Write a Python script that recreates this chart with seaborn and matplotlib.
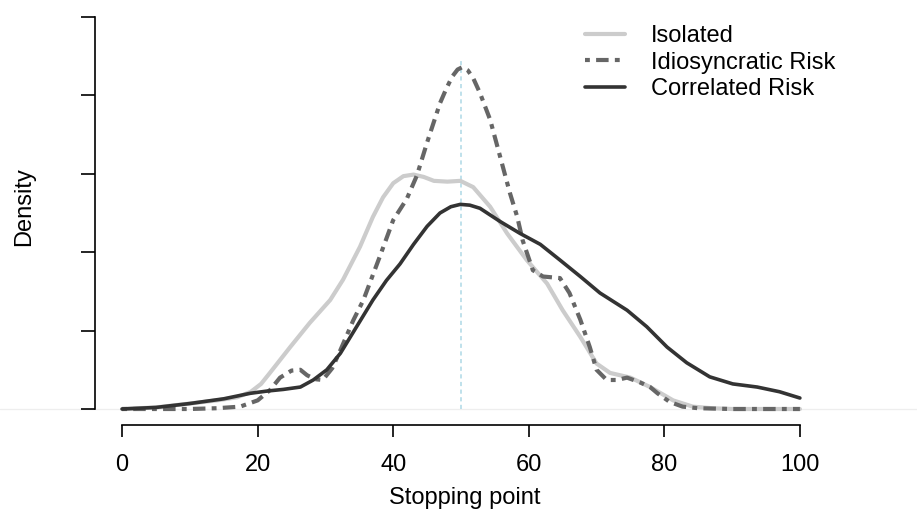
import numpy as np
import pandas as pd
import matplotlib
matplotlib.use("Agg")
import matplotlib.pyplot as plt
import seaborn as sns

# density curves (x = stopping point, y = density)
iso_x = [0, 5, 10, 14, 17, 19, 20.5, 21.8, 24.8, 27.7, 30.7, 32.6, 35.1, 37, 38.5, 40,
         41.5, 43, 44.5, 46, 48, 49.9, 51.8, 54.3, 56.8, 59.7, 62.7, 65, 67.6, 70, 72, 75,
         77.9, 81.3, 84.2, 87, 90, 95, 100]
iso_y = [0, 0.0002, 0.0007, 0.0011, 0.0015, 0.0022, 0.0032, 0.0046, 0.0079, 0.011, 0.0139,
         0.0165, 0.0207, 0.0245, 0.027, 0.0288, 0.0297, 0.0299, 0.0296, 0.0291, 0.029,
         0.0291, 0.0283, 0.0258, 0.0224, 0.019, 0.016, 0.0126, 0.0092, 0.0058, 0.0046,
         0.004, 0.0028, 0.0011, 0.0003, 0.0001, 0, 0, 0]

idio_x = [0, 5, 10, 14, 17.4, 20, 21.8, 23.3, 25, 26.3, 27.3, 28.5, 29.6, 31, 32.2, 34.1,
          35.6, 38, 40, 42, 43.5, 45, 46.9, 47.8, 48.7, 49.5, 50.2, 51, 51.8, 52.8, 54.3,
          55.8, 57.2, 58.3, 59.1, 60.6, 62.1, 64.6, 66, 67.6, 69, 70, 71.5, 73, 74.5, 76.4,
          77.9, 79, 80.8, 82.7, 85, 90, 95, 100]
idio_y = [0, 0, 0, 0.0001, 0.0003, 0.0011, 0.0024, 0.004, 0.0049, 0.005, 0.0043, 0.0038,
          0.0037, 0.0052, 0.0075, 0.0113, 0.0139, 0.0194, 0.0241, 0.0268, 0.0298, 0.034,
          0.039, 0.0408, 0.0424, 0.0433, 0.0436, 0.0432, 0.0422, 0.0403, 0.0369, 0.0321,
          0.0276, 0.0245, 0.0215, 0.0177, 0.0169, 0.0167, 0.0148, 0.0114, 0.0079, 0.005,
          0.0037, 0.0037, 0.004, 0.0034, 0.0028, 0.002, 0.0009, 0.0003, 0.0001, 0, 0, 0]

corr_x = [0, 5, 10, 15, 18.9, 21.5, 23.8, 26.3, 28.2, 30.2, 32.2, 34.6, 37, 39, 41, 43,
          45, 46.9, 48.5, 49.9, 51.3, 52.8, 55.8, 58.7, 61.7, 64.6, 67.6, 70.5, 74.5, 77.4,
          80.4, 83.3, 86.7, 90.1, 93.7, 97, 100]
corr_y = [0, 0.0002, 0.0007, 0.0013, 0.002, 0.0023, 0.0025, 0.0028, 0.0037, 0.005, 0.0071,
          0.0105, 0.0139, 0.0164, 0.0185, 0.021, 0.0233, 0.025, 0.0258, 0.0261, 0.026,
          0.0256, 0.0239, 0.0224, 0.021, 0.019, 0.0169, 0.0148, 0.0126, 0.0105, 0.0079,
          0.0059, 0.0041, 0.0032, 0.0028, 0.0022, 0.0014]

labels = ["Isolated", "Idiosyncratic Risk", "Correlated Risk"]
x_ticks = [0, 20, 40, 60, 80, 100]
y_ticks = [0, 0.01, 0.02, 0.03, 0.04, 0.05]
mid_point = 50
mid_top = 0.0445

sns.set_theme(style="ticks")
plt.rcParams["font.family"] = ["Liberation Sans", "DejaVu Sans"]
plt.rcParams["lines.scale_dashes"] = False
plt.rcParams["text.color"] = "black"
plt.rcParams["axes.labelcolor"] = "black"

fig = plt.figure(figsize=(9.17, 5.12), dpi=100)
ax = fig.add_axes([95 / 917, 1 - 425 / 512, 732 / 917, 415 / 512])

# faint zero line across the whole figure
ax.axhline(0, xmin=-95 / 732, xmax=822 / 732, color="#eeeeee", lw=0.9, clip_on=False, zorder=0)
ax.vlines(mid_point, 0, mid_top, color="#add8e6", lw=1.1, linestyles=(0, (3, 2.5)), zorder=1)

sns.lineplot(x=iso_x, y=iso_y, color="#cccccc", linewidth=3.0, label=labels[0], ax=ax,
             solid_joinstyle="round")
sns.lineplot(x=idio_x, y=idio_y, color="#666666", linewidth=3.0, label=labels[1],
             linestyle=(0, (3.5, 4.5, 9, 4.5)), ax=ax)
sns.lineplot(x=corr_x, y=corr_y, color="#333333", linewidth=2.6, label=labels[2], ax=ax,
             solid_joinstyle="round")

ax.set_xlim(-4, 104)
ax.set_ylim(-16 / 7840, 399 / 7840)
ax.set_xticks(x_ticks)
ax.set_xticklabels([str(t) for t in x_ticks], fontsize=17)
ax.set_yticks(y_ticks)
ax.set_yticklabels([])

for s in ["top", "right"]:
    ax.spines[s].set_visible(False)
ax.spines["bottom"].set_bounds(0, 100)
ax.spines["left"].set_bounds(0, 0.05)
for s in ["bottom", "left"]:
    ax.spines[s].set_color("black")
    ax.spines[s].set_linewidth(1.2)
ax.tick_params(axis="x", length=8.6, width=1.2, color="black", pad=12, labelcolor="black")
ax.tick_params(axis="y", length=10, width=1.2, color="black")

ax.set_xlabel("Stopping point", fontsize=17, va="center", color="black")
ax.xaxis.set_label_coords((465 - 95) / 732, -(498 - 425) / 415)
ax.set_ylabel("Density", fontsize=17, va="center", color="black")
ax.yaxis.set_label_coords((24 - 95) / 732, (425 - 207) / 415)

ax.legend(loc="upper left", bbox_to_anchor=(585 / 917, 1 - 25 / 512),
          bbox_transform=fig.transFigure, frameon=False, fontsize=17,
          handlelength=1.7, handletextpad=1.1, labelspacing=0.2, borderpad=0,
          borderaxespad=0)

fig.savefig("out.png", dpi=100)
